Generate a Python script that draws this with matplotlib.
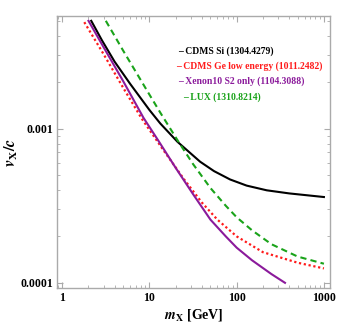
import numpy as np
import matplotlib
matplotlib.use("Agg")
import matplotlib.pyplot as plt

plt.rcParams['font.family'] = ['Liberation Serif', 'DejaVu Serif']
plt.rcParams['font.weight'] = 'bold'
plt.rcParams['axes.labelweight'] = 'bold'
plt.rcParams['mathtext.fontset'] = 'stix'

# CDMS Si (1304.4279)
si_m = [2.15, 2.85, 3.98, 6.01, 10, 13.3, 21, 38.1, 55, 84, 130, 221, 400, 1000]
si_v = [0.005, 0.00374, 0.00272, 0.00195, 0.00132, 0.00108, 0.00082, 0.00061,
        0.00053, 0.000468, 0.000427, 0.000398, 0.00038, 0.00036]

# CDMS Ge low energy (1011.2482)
ge_m = [1.79, 3, 5, 8.16, 14.5, 25, 40, 60, 100, 200, 500, 1000]
ge_v = [0.0049, 0.00302, 0.00184, 0.00116, 0.000723, 0.000468, 0.000331,
        0.000257, 0.0002, 0.000158, 0.000135, 0.000124]

# Xenon10 S2 only (1104.3088)
xe_m = [2.0, 3, 5, 8.54, 12.7, 20, 31.6, 50, 75, 100, 150, 250, 358]
xe_v = [0.005, 0.00335, 0.00203, 0.001175, 0.000832, 0.000556, 0.000376,
        0.000257, 0.0002, 0.000169, 0.00014, 0.000114, 0.0001]

# LUX (1310.8214)
lux_m = [3.16, 5, 10, 13.3, 21.5, 31.6, 50, 75, 100, 150, 250, 500, 1000]
lux_v = [0.005, 0.0032, 0.00166, 0.00127, 0.000822, 0.000589, 0.000412,
         0.000316, 0.000266, 0.000219, 0.000178, 0.000148, 0.000133]

labels = ["CDMS Si (1304.4279)", "CDMS Ge low energy (1011.2482)",
          "Xenon10 S2 only (1104.3088)", "LUX (1310.8214)"]
colors = ["black", "#ff1a1a", "#8b1a9b", "#1aa31a"]

fig = plt.figure(figsize=(3.37, 3.23), dpi=100)
ax = fig.add_axes([0.169, 0.108, 0.810, 0.842])

ax.plot(si_m, si_v, color=colors[0], lw=1.5)
ax.plot(ge_m, ge_v, color=colors[1], lw=1.6, linestyle=(0, (1, 1.2)))
ax.plot(xe_m, xe_v, color=colors[2], lw=1.5)
ax.plot(lux_m, lux_v, color=colors[3], lw=1.5, linestyle=(0, (3, 2)))

ax.set_xscale('log')
ax.set_yscale('log')
ax.set_xlim(0.87, 1172)
ax.set_ylim(9.24e-5, 5.36e-3)

ax.set_xticks([1, 10, 100, 1000])
ax.set_xticklabels(['1', '10', '100', '1000'])
ax.set_yticks([1e-4, 1e-3])
ax.set_yticklabels(['0.0001', '0.001'])
ax.minorticks_on()
ax.yaxis.set_minor_formatter(matplotlib.ticker.NullFormatter())
ax.xaxis.set_minor_formatter(matplotlib.ticker.NullFormatter())

for s in ax.spines.values():
    s.set_color('#aaaaaa')
    s.set_linewidth(1.0)
ax.tick_params(which='both', direction='in', top=True, right=True, color='#aaaaaa')
ax.tick_params(which='major', length=4, width=0.8, labelsize=8.5, pad=3)
ax.tick_params(which='minor', length=2, width=0.6)

ax.set_xlabel(r'$\mathbfit{m}_{\mathbf{X}}$ [GeV]', fontsize=10, fontweight='bold', labelpad=2)
ax.set_ylabel(r'$\mathbfit{v}_{\mathbf{X}}/\mathbfit{c}$', fontsize=11.5, labelpad=0)

ypos = [0.871, 0.816, 0.761, 0.702]
xpos = [0.443, 0.436, 0.443, 0.462]
for lab, c, x, y in zip(labels, colors, xpos, ypos):
    ax.text(x, y, "\u2013 " + lab, color=c, transform=ax.transAxes,
            fontsize=6.9, va='center', ha='left')

fig.savefig('out.png', dpi=100)
